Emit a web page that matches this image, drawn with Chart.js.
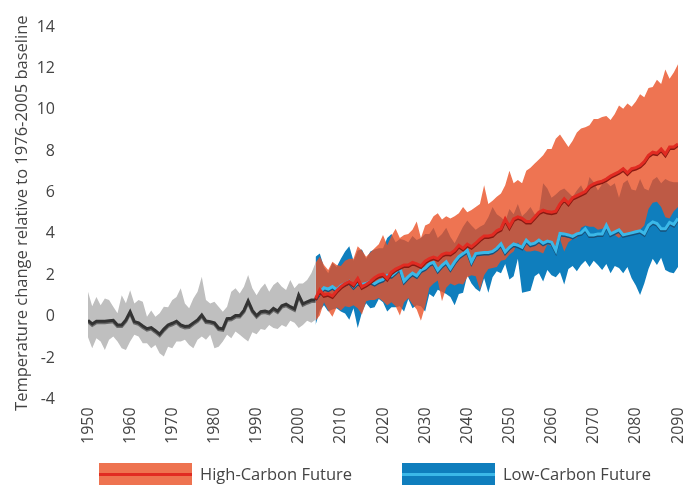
<!DOCTYPE html>
<html>
<head>
<meta charset="utf-8">
<script src="https://cdn.jsdelivr.net/npm/chart.js@4"></script>
<style>
  html, body { margin: 0; padding: 0; background: #fff; }
  #wrap { position: relative; width: 694px; height: 485px; overflow: hidden; font-family: "Open Sans", sans-serif; }
  #chart { position: absolute; left: 0; top: 0; }
  .swatch { position: absolute; top: 463px; width: 93px; height: 24px; }
  .swatch i { position: absolute; left: 0; right: 0; top: 10px; height: 3px; }
  .label { position: absolute; top: 462px; font-size: 16.5px; line-height: 24px; color: #444; white-space: nowrap; }
</style>
</head>
<body>
<div id="wrap">
  <canvas id="chart" width="694" height="485"></canvas>
  <div class="swatch" style="left:99px;background:#ee7350"><i style="background:#e12b22"></i></div>
  <div class="label" style="left:200px">High-Carbon Future</div>
  <div class="swatch" style="left:402px;background:#0f7ebd"><i style="background:#3bb8e8"></i></div>
  <div class="label" style="left:503px">Low-Carbon Future</div>
</div>
<script>
// observed period, one value per year from 1950
const histStart = 1950;
const histMid = [-0.18, -0.35, -0.22, -0.22, -0.22, -0.2, -0.18, -0.4, -0.4, -0.16,
    0.24, -0.24, -0.3, -0.45, -0.58, -0.53, -0.68, -0.85, -0.6, -0.4,
    -0.32, -0.22, -0.4, -0.47, -0.45, -0.3, -0.16, 0.08, -0.21, -0.24,
    -0.3, -0.55, -0.59, -0.1, -0.08, 0.05, 0.05, 0.3, 0.76, 0.3,
    0.05, 0.24, 0.27, 0.21, 0.4, 0.27, 0.53, 0.6, 0.48, 0.38,
    1.04, 0.62, 0.72, 0.8, 0.8];
const histHi = [1.2, 0.5, 0.95, 0.55, 0.88, 0.8, 0.48, 0.16, 1.04, 0.65,
    1.28, 0.64, 0.8, 0.72, 0.0, 0.3, 0.0, 0.16, 0.48, 0.45,
    0.8, 0.95, 1.37, 0.64, 0.4, 0.88, 1.2, 1.93, 0.8, 0.64,
    0.72, 0.48, 0.24, 0.48, 1.2, 1.37, 1.12, 1.45, 2.01, 1.37,
    1.04, 1.37, 1.6, 1.2, 1.53, 1.69, 1.45, 1.29, 1.77, 1.37,
    1.6, 1.6, 1.77, 2.1, 2.6];
const histLo = [-1.0, -1.53, -1.04, -1.2, -1.61, -1.12, -0.96, -1.2, -1.53, -1.61,
    -1.2, -0.88, -0.96, -1.29, -1.29, -1.53, -1.37, -1.77, -1.93, -1.45,
    -1.53, -1.2, -1.2, -1.12, -1.37, -1.53, -1.12, -0.96, -1.12, -0.88,
    -1.53, -1.45, -1.2, -0.88, -1.04, -0.72, -0.88, -1.04, -1.2, -0.75,
    -0.85, -0.6, -0.65, -0.4, -0.55, -0.6, -0.4, -0.5, -0.2, -0.3,
    -0.55, -0.4, -0.2, -0.3, -0.15];

// projections, one value per year from 2004
const futStart = 2004;
const highMid = [0.88, 1.3, 1.05, 1.1, 1.0, 1.25, 1.45, 1.6, 1.7, 1.55,
    1.85, 1.45, 1.55, 1.7, 1.88, 2.0, 2.05, 1.85, 2.15, 2.3,
    2.4, 2.5, 2.5, 2.62, 2.55, 2.45, 2.68, 2.8, 2.88, 2.8,
    3.0, 3.08, 3.05, 3.2, 3.45, 3.3, 3.5, 3.38, 3.55, 3.75,
    3.9, 3.9, 3.95, 4.15, 4.25, 4.72, 4.35, 4.72, 4.82, 4.75,
    4.6, 4.6, 4.82, 5.05, 5.15, 5.08, 5.05, 5.1, 5.45, 5.7,
    5.48, 5.75, 5.85, 5.95, 6.05, 6.3, 6.42, 6.5, 6.55, 6.65,
    6.8, 6.9, 7.0, 7.15, 6.95, 7.15, 7.2, 7.3, 7.5, 7.8,
    7.95, 7.9, 8.1, 7.85, 8.2, 8.2, 8.35];
const highHi = [2.6, 2.9, 2.5, 2.25, 2.65, 2.5, 2.45, 2.7, 2.8, 2.8,
    3.4, 3.2, 2.9, 3.1, 3.3, 3.5, 3.95, 3.45, 3.9, 4.25,
    3.8, 3.95, 4.0, 4.2, 4.6, 3.8, 4.4, 4.5, 4.85, 5.0,
    4.7, 4.85, 4.75, 4.85, 5.0, 5.3, 5.05, 5.15, 5.3, 5.45,
    6.35, 5.45, 5.6, 5.8, 5.95, 6.35, 7.05, 6.45, 6.6, 6.45,
    7.05, 7.2, 7.4, 7.6, 7.8, 8.1, 8.1, 8.6, 8.8, 8.5,
    8.2, 8.5, 8.9, 9.1, 9.15, 9.25, 9.55, 9.55, 9.65, 9.7,
    9.5, 9.8, 10.2, 10.05, 10.3, 10.15, 10.4, 10.75, 10.6, 11.05,
    11.1, 11.45, 11.25, 11.95, 11.5, 11.8, 12.2];
const highLo = [-0.2, 0.05, 0.7, 0.3, 0.0, 0.45, 0.3, 0.5, 0.45, 0.55,
    0.4, 0.1, 0.75, 0.8, 0.8, 0.9, 0.75, 0.55, 0.7, 0.5,
    0.05, 0.7, 0.9, 0.6, 0.35, -0.2, 0.5, 1.4, 1.6, 1.75,
    0.75, 1.4, 1.6, 1.5, 1.6, 1.55, 1.9, 2.0, 1.95, 1.3,
    2.0, 2.3, 2.35, 2.4, 2.7, 2.75, 3.0, 3.15, 3.6, 3.3,
    3.15, 3.15, 3.2, 3.15, 3.05, 3.5, 3.4, 3.35, 3.75, 3.15,
    3.6, 3.75, 3.8, 4.3, 4.4, 4.35, 4.35, 4.2, 4.25, 4.35,
    4.05, 3.95, 3.8, 4.0, 4.05, 4.1, 4.1, 4.2, 4.4, 5.2,
    5.5, 5.55, 5.3, 4.8, 4.75, 5.1, 5.3];
const lowMid = [0.88, 1.17, 1.4, 1.33, 1.45, 1.3, 1.5, 1.6, 1.7, 1.45,
    1.65, 1.55, 1.6, 1.7, 1.6, 1.72, 1.8, 2.0, 1.98, 2.15,
    2.35, 1.72, 1.93, 2.1, 1.98, 2.25, 2.35, 2.55, 2.62, 2.25,
    2.48, 2.65, 2.33, 2.65, 2.9, 3.05, 3.2, 2.65, 3.05, 3.08,
    3.1, 3.1, 3.15, 3.3, 3.52, 3.13, 3.35, 3.52, 3.45, 3.35,
    3.7, 3.5, 3.55, 3.7, 3.55, 3.65, 3.6, 3.2, 4.02, 4.0,
    3.95, 3.88, 4.0, 4.05, 4.25, 3.95, 3.95, 4.0, 4.0, 4.42,
    4.0, 4.1, 4.2, 3.95, 4.0, 4.05, 4.1, 4.15, 4.02, 4.42,
    4.58, 4.5, 4.25, 4.25, 4.55, 4.45, 4.75];
const lowHi = [2.9, 3.05, 2.4, 2.1, 2.6, 2.4, 2.8, 3.15, 3.4, 2.7,
    3.2, 3.25, 2.8, 3.15, 3.25, 3.3, 3.3, 3.8, 4.0, 3.6,
    3.75, 3.7, 3.6, 3.9, 3.7, 3.8, 4.0, 4.0, 4.3, 3.8,
    4.0, 4.3, 3.85, 3.55, 3.95, 4.35, 4.65, 4.4, 4.2, 4.35,
    4.45, 4.8, 5.3, 4.95, 4.8, 4.6, 5.2, 4.95, 5.45, 4.85,
    5.05, 5.3, 4.95, 5.0, 6.45, 6.2, 5.75, 5.9, 6.1, 6.2,
    6.0, 5.8, 6.1, 6.35, 5.9, 6.75, 6.5, 6.1, 6.4, 6.5,
    6.3, 6.45, 5.75, 6.45, 6.6, 6.15, 6.1, 6.65, 6.2, 6.1,
    6.6, 6.75, 6.45, 6.65, 6.55, 6.5, 6.5];
const lowLo = [-0.4, 0.3, 0.55, 0.25, 0.35, 0.4, 0.25, 0.15, -0.15, 0.4,
    -0.55, 0.2, 0.65, 0.4, 0.45, 0.85, 0.7, 0.25, 0.45, 0.45,
    0.5, 0.25, 0.85, 0.4, 0.55, 0.5, 0.25, 1.1, 0.95, 1.3,
    1.2, 1.1, 0.95, 0.55, 1.1, 1.15, 2.0, 1.6, 1.35, 1.2,
    1.85, 1.15, 1.9, 2.2, 2.1, 2.55, 1.8, 1.95, 2.8, 1.15,
    1.2, 1.25, 1.95, 2.1, 1.7, 2.25, 2.0, 1.9, 2.15, 1.55,
    2.3, 2.45, 2.2, 2.5, 2.7, 2.4, 2.7, 2.5, 2.25, 2.55,
    2.1, 2.45, 2.35, 2.1, 2.4, 1.85, 1.5, 1.05, 1.6, 2.3,
    2.8, 2.5, 2.85, 2.25, 2.15, 2.1, 2.4];

const yTitle = "Temperature change relative to 1976-2005 baseline";

function pts(start, values) {
    return values.map((v, i) => ({ x: start + i, y: v }));
}

// dark line under each trend line
const lineShadow = {
    id: "lineShadow",
    beforeDatasetDraw(chart, args) {
        let ds = chart.data.datasets[args.index];
        if (!ds.shadowColor) return;
        chart.ctx.save();
        chart.ctx.shadowColor = ds.shadowColor;
        chart.ctx.shadowOffsetY = 1.5;
        chart.ctx.shadowBlur = 0;
    },
    afterDatasetDraw(chart, args) {
        let ds = chart.data.datasets[args.index];
        if (ds.shadowColor) chart.ctx.restore();
    }
};

const band = { borderWidth: 0, pointRadius: 0 };
const trend = { borderWidth: 3, pointRadius: 0, fill: false };

let ctx = document.getElementById("chart");
let chart = new Chart(ctx, {
    type: "line",
    plugins: [lineShadow],
    data: {
        datasets: [
            { ...trend, label: "High-Carbon Future", data: pts(futStart, highMid), borderColor: "#e12b22", shadowColor: "#8a1a12", order: 0 },
            { ...trend, label: "Low-Carbon Future", data: pts(futStart, lowMid), borderColor: "#3bb8e8", shadowColor: "#17507a", order: 1 },
            { ...band, label: "high upper", data: pts(futStart, highHi), backgroundColor: "rgba(234,81,39,0.8)", fill: "+1", order: 2 },
            { ...band, label: "high lower", data: pts(futStart, highLo), fill: false, order: 3 },
            { ...band, label: "low upper", data: pts(futStart, lowHi), backgroundColor: "#0f7ebd", fill: "+1", order: 4 },
            { ...band, label: "low lower", data: pts(futStart, lowLo), fill: false, order: 5 },
            { ...trend, label: "Observed", data: pts(histStart, histMid), borderColor: "#333333", shadowColor: "#6a6a6a", order: 6 },
            { ...band, label: "obs upper", data: pts(histStart, histHi), backgroundColor: "#bfbfbf", fill: "+1", order: 7 },
            { ...band, label: "obs lower", data: pts(histStart, histLo), fill: false, order: 8 }
        ]
    },
    options: {
        responsive: false,
        animation: false,
        layout: { padding: { left: 12, right: 16, top: 27, bottom: 33 } },
        elements: { line: { tension: 0 } },
        plugins: {
            legend: { display: false },
            tooltip: { enabled: false }
        },
        scales: {
            x: {
                type: "linear",
                min: 1950,
                max: 2090,
                grid: { display: false, drawTicks: false },
                border: { display: false },
                afterFit: s => { s.paddingLeft = 0; s.paddingRight = 0; },
                ticks: {
                    stepSize: 10,
                    minRotation: 90,
                    maxRotation: 90,
                    padding: 8,
                    color: "#444",
                    font: { family: "Open Sans", size: 16 },
                    callback: v => String(v)
                }
            },
            y: {
                min: -4,
                max: 14,
                grid: { display: false, drawTicks: false },
                border: { display: false },
                afterFit: s => { s.width = 76; s.paddingTop = 0; s.paddingBottom = 0; },
                ticks: {
                    stepSize: 2,
                    padding: 33,
                    color: "#444",
                    font: { family: "Open Sans", size: 16 }
                },
                title: {
                    display: true,
                    text: yTitle,
                    color: "#444",
                    padding: 0,
                    font: { family: "Open Sans", size: 16.5 }
                }
            }
        }
    }
});
</script>
</body>
</html>
